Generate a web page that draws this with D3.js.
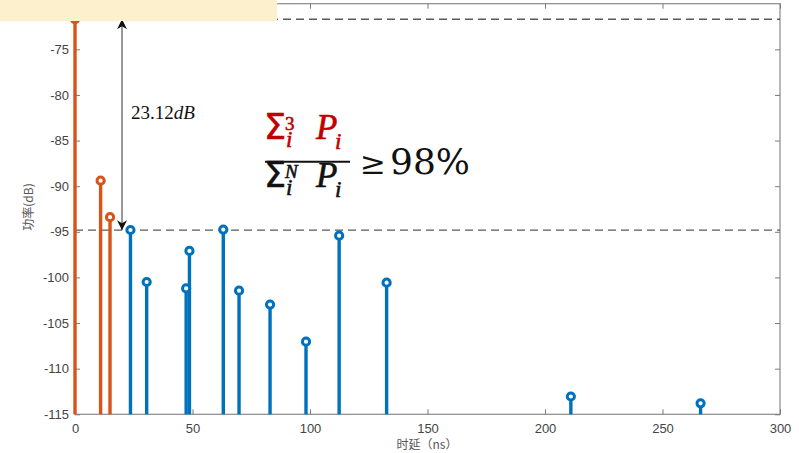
<!DOCTYPE html>
<html><head><meta charset="utf-8">
<script src="https://cdn.jsdelivr.net/npm/d3@7"></script>
<style>body{margin:0;background:#fff}svg{display:block}</style>
</head><body>
<script>
// Data
const orangeDelays = [0, 10.9, 14.9];
const orangePowers = [-71.7, -89.4, -93.4];
const blueDelays = [23.6, 30.5, 47.3, 48.7, 63.1, 69.8, 83.0, 98.3, 112.4, 132.6, 211, 266.2];
const bluePowers = [-94.8, -100.5, -101.2, -97.1, -94.75, -101.45, -102.98, -107.04, -95.42, -100.57, -113.05, -113.8];
const xTicks = [0, 50, 100, 150, 200, 250, 300];
const yTicks = [-115, -110, -105, -100, -95, -90, -85, -80, -75];
const refLevels = [-71.7, -94.82];
const gapLabel = "23.12";

const W = 799, H = 453;
const svg = d3.select("body").append("svg").attr("width", W).attr("height", H);
const x = d3.scaleLinear().domain([0, 300]).range([75, 780]);
const y = d3.scaleLinear().domain([-115, -70]).range([414.3, 3.7]);
const axisCol = "#444";
const tickFont = "Liberation Sans, Arial, sans-serif";

// box
svg.append("rect").attr("x", x(0)).attr("y", y(-70)).attr("width", x(300)-x(0)).attr("height", y(-115)-y(-70))
  .attr("fill", "none").attr("stroke", "#8a8a8a").attr("stroke-width", 1.2);

// axes
const fmt = d => String(d);
const gx = svg.append("g").attr("transform", `translate(0,${y(-115)})`)
  .call(d3.axisBottom(x).tickValues(xTicks).tickSizeInner(-5).tickSizeOuter(0).tickPadding(9).tickFormat(fmt));
const gxt = svg.append("g").attr("transform", `translate(0,${y(-70)})`)
  .call(d3.axisTop(x).tickValues(xTicks).tickSizeInner(-5).tickSizeOuter(0).tickFormat(""));
const gy = svg.append("g").attr("transform", `translate(${x(0)},0)`)
  .call(d3.axisLeft(y).tickValues(yTicks).tickSizeInner(-5).tickSizeOuter(0).tickPadding(7).tickFormat(fmt));
const gyr = svg.append("g").attr("transform", `translate(${x(300)},0)`)
  .call(d3.axisRight(y).tickValues(yTicks).tickSizeInner(-5).tickSizeOuter(0).tickFormat(""));
[gx, gxt, gy, gyr].forEach(g => {
  g.select(".domain").remove();
  g.selectAll("line").attr("stroke", "#7a7a7a");
  g.selectAll("text").attr("fill", axisCol).style("font-family", tickFont).style("font-size", "13px");
});
gy.selectAll("text").attr("x", -6);

// reference dashed lines
svg.selectAll(".ref").data(refLevels).enter().append("line")
  .attr("x1", x(0)).attr("x2", x(300)).attr("y1", d => y(d)).attr("y2", d => y(d))
  .attr("stroke", "#5a5a5a").attr("stroke-width", 1.4).attr("stroke-dasharray", "8,5");

// stems
function stems(delays, powers, col) {
  const data = delays.map((d, i) => ({d, p: powers[i]}));
  const g = svg.append("g");
  g.selectAll("line").data(data).enter().append("line")
    .attr("x1", d => x(d.d)).attr("x2", d => x(d.d))
    .attr("y1", y(-115)).attr("y2", d => y(d.p))
    .attr("stroke", col).attr("stroke-width", 3.4);
  g.selectAll("circle").data(data).enter().append("circle")
    .attr("cx", d => x(d.d)).attr("cy", d => y(d.p)).attr("r", 3.6)
    .attr("fill", "#fff").attr("stroke", col).attr("stroke-width", 3);
}
stems(orangeDelays, orangePowers, "#D95319");
stems(blueDelays, bluePowers, "#0072BD");

// arrow
const ax = x(20);
const defs = svg.append("defs");
defs.append("marker").attr("id", "ah").attr("viewBox", "0 0 10 10").attr("refX", 10).attr("refY", 5)
  .attr("markerWidth", 10).attr("markerHeight", 10).attr("markerUnits", "userSpaceOnUse").attr("orient", "auto-start-reverse")
  .append("path").attr("d", "M0,0 L10,5 L0,10 L3,5 Z").attr("fill", "#111");
svg.append("line").attr("x1", ax).attr("x2", ax).attr("y1", y(refLevels[0])).attr("y2", y(refLevels[1]))
  .attr("stroke", "#333").attr("stroke-width", 1)
  .attr("marker-start", "url(#ah)").attr("marker-end", "url(#ah)");
const lab = svg.append("text").attr("x", 131).attr("y", 118.5)
  .style("font-family", "Liberation Serif, DejaVu Serif, serif").style("font-size", "19px").attr("fill", "#111");
lab.append("tspan").text(gapLabel);
lab.append("tspan").style("font-style", "italic").text("dB");

// yellow box (cut-off legend)
svg.append("rect").attr("x", 0).attr("y", 0).attr("width", 277).attr("height", 21).attr("fill", "#fdf0cc");

// formula
const serif = "Liberation Serif, DejaVu Serif, serif";
function row(base, col, supTxt, supItal) {
  const t = svg.append("text").attr("x", 264).attr("y", base).attr("fill", col)
    .attr("stroke", col).attr("stroke-width", 0.6).style("font-family", serif);
  t.append("tspan").style("font-family", "DejaVu Sans, sans-serif").style("font-size", "35px").text("Σ");
  t.append("tspan").attr("x", 285).attr("y", base - 9).style("font-size", "19px")
    .style("font-style", supItal ? "italic" : "normal").text(supTxt);
  t.append("tspan").attr("x", 286).attr("y", base + 8).style("font-size", "23px").style("font-style", "italic").text("i");
  t.append("tspan").attr("x", 316).attr("y", base).style("font-size", "35px").style("font-style", "italic").text("P");
  t.append("tspan").attr("x", 335).attr("y", base + 10).style("font-size", "23px").style("font-style", "italic").text("i");
}
row(139, "#c00000", "3", false);
svg.append("line").attr("x1", 265).attr("x2", 350).attr("y1", 161.7).attr("y2", 161.7).attr("stroke", "#111").attr("stroke-width", 2);
row(187, "#111", "N", true);
const rhs = svg.append("text").attr("x", 360).attr("y", 174).attr("fill", "#111")
  .style("font-family", "DejaVu Serif, serif").style("font-size", "36px");
rhs.append("tspan").style("font-size", "31px").text("≥");
rhs.append("tspan").attr("x", 390).text("98%");

// axis titles
svg.append("text").attr("x", 427).attr("y", 449).attr("text-anchor", "middle").text("时延（ns）")
  .style("font-family", "Noto Sans CJK SC, sans-serif").style("font-size", "12px").attr("fill", "#555");
svg.append("text").attr("transform", "translate(33,207) rotate(-90)").attr("text-anchor", "middle").text("功率(dB)")
  .style("font-family", "Noto Sans CJK SC, sans-serif").style("font-size", "12px").attr("fill", "#555");
</script>
</body></html>
